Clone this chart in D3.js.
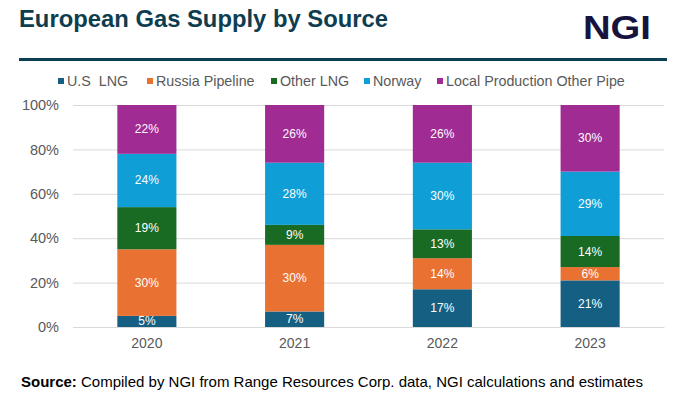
<!DOCTYPE html>
<html><head><meta charset="utf-8">
<script src="https://cdn.jsdelivr.net/npm/d3@7"></script>
<style>body{margin:0;background:#fff;} svg{display:block;font-family:"Liberation Sans",Arial,sans-serif;}</style>
</head><body>
<svg id="c" width="684" height="402"></svg>
<script>
const years = ["2020","2021","2022","2023"];
const seriesNames = ["U.S  LNG","Russia Pipeline","Other LNG","Norway","Local Production Other Pipe"];
const usLng = [5,7,17,21];
const russiaPipeline = [30,30,14,6];
const otherLng = [19,9,13,14];
const norway = [24,28,30,29];
const localOther = [22,26,26,30];
const yTicks = [0,20,40,60,80,100];
const colors = ["#156082","#E97132","#196B24","#0F9ED5","#A02B93"];

const svg = d3.select("#c");
const rows = years.map((y,i)=>({year:y, s0:usLng[i], s1:russiaPipeline[i], s2:otherLng[i], s3:norway[i], s4:localOther[i]}));
const keys = ["s0","s1","s2","s3","s4"];
const stack = d3.stack().keys(keys)(rows);

const x = d3.scaleBand().domain(years).range([73,664]).paddingInner(0.6).paddingOuter(0.3);
const y = d3.scaleLinear().domain([0,100]).range([327,105]);

// title
svg.append("text").attr("x",19).attr("y",27).attr("font-size",24).attr("font-weight","bold").attr("fill","#0e3d50")
  .attr("textLength",369).attr("lengthAdjust","spacingAndGlyphs").text("European Gas Supply by Source");
svg.append("text").attr("x",583).attr("y",39).attr("font-size",34).attr("font-weight","bold").attr("fill","#16133f").attr("textLength",68).attr("lengthAdjust","spacingAndGlyphs").text("NGI");
svg.append("rect").attr("x",19).attr("y",58).attr("width",648).attr("height",3).attr("fill","#0d3f52");

// grid
const yAxis = d3.axisLeft(y).tickValues(yTicks).tickSize(-(664-73)).tickFormat(d=>d+"%");
const gy = svg.append("g").attr("transform","translate(73,0)").call(yAxis);
gy.select(".domain").remove();
gy.selectAll(".tick line").attr("stroke","#d9d9d9").attr("stroke-width",1);
gy.selectAll(".tick text").attr("x",-14).attr("font-size",14.5).attr("fill","#595959").attr("font-family","Liberation Sans, Arial, sans-serif");

// bars
const layers = svg.append("g").selectAll("g").data(stack).join("g").attr("fill",(d,i)=>colors[i]);
layers.selectAll("rect").data(d=>d).join("rect")
  .attr("x",d=>x(d.data.year)).attr("width",x.bandwidth())
  .attr("y",d=>y(d[1])).attr("height",d=>y(d[0])-y(d[1]));
layers.selectAll("text").data(d=>d).join("text")
  .attr("x",d=>x(d.data.year)+x.bandwidth()/2)
  .attr("y",d=>(y(d[0])+y(d[1]))/2+4)
  .attr("text-anchor","middle").attr("font-size",12).attr("fill","#fff")
  .text(d=>(d[1]-d[0])+"%");

// x axis
const xAxis = d3.axisBottom(x).tickSize(0);
const gx = svg.append("g").attr("transform","translate(0,327)").call(xAxis);
gx.select(".domain").attr("stroke","#d9d9d9");
gx.selectAll(".tick text").attr("dy","1.25em").attr("font-size",14).attr("fill","#595959").attr("font-family","Liberation Sans, Arial, sans-serif");

// legend
const legendX = [58,147,271,364,437];
const lg = svg.append("g").selectAll("g").data(seriesNames).join("g")
  .attr("transform",(d,i)=>`translate(${legendX[i]},81)`);
lg.append("rect").attr("x",0).attr("y",-3).attr("width",6).attr("height",6).attr("fill",(d,i)=>colors[i]);
lg.append("text").attr("x",9).attr("y",5).attr("font-size",14.3).attr("fill","#595959").attr("xml:space","preserve").style("white-space","pre").text(d=>d);

// source
const src = svg.append("text").attr("x",21).attr("y",387).attr("font-size",15).attr("fill","#000");
src.append("tspan").attr("font-weight","bold").text("Source:");
src.append("tspan").text(" Compiled by NGI from Range Resources Corp. data, NGI calculations and estimates");
</script>
</body></html>
